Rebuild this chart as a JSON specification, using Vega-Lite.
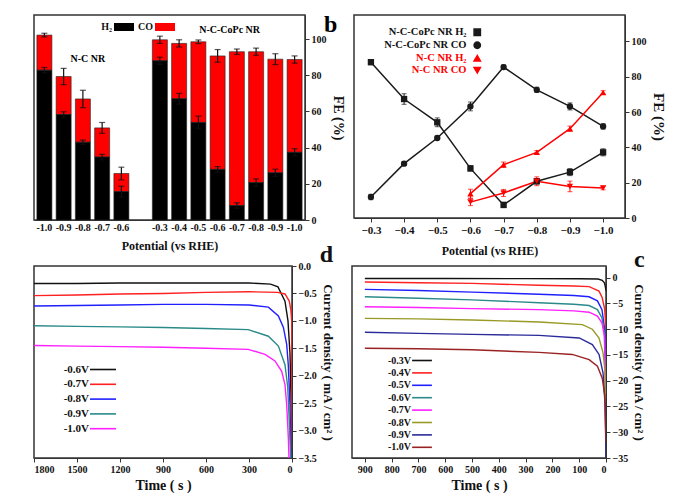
{
  "$schema": "https://vega.github.io/schema/vega-lite/v6.json",
  "padding": {"left": 32, "top": 12, "right": 0, "bottom": 0},
  "background": "white",
  "datasets": {
    "fe": [
      {"series": "N-C-CoPc NR H₂", "potential": -0.3, "fe": 88.3, "err": 1.5},
      {"series": "N-C-CoPc NR H₂", "potential": -0.4, "fe": 67.4, "err": 3},
      {"series": "N-C-CoPc NR H₂", "potential": -0.5, "fe": 54.2, "err": 2.5},
      {"series": "N-C-CoPc NR H₂", "potential": -0.6, "fe": 28.1, "err": 1.5},
      {"series": "N-C-CoPc NR H₂", "potential": -0.7, "fe": 7.4, "err": 1.5},
      {"series": "N-C-CoPc NR H₂", "potential": -0.8, "fe": 20.8, "err": 1.5},
      {"series": "N-C-CoPc NR H₂", "potential": -0.9, "fe": 26, "err": 2},
      {"series": "N-C-CoPc NR H₂", "potential": -1.0, "fe": 37.2, "err": 2},
      {"series": "N-C-CoPc NR CO", "potential": -0.3, "fe": 11.9, "err": 1.5},
      {"series": "N-C-CoPc NR CO", "potential": -0.4, "fe": 30.8, "err": 1},
      {"series": "N-C-CoPc NR CO", "potential": -0.5, "fe": 45.3, "err": 1},
      {"series": "N-C-CoPc NR CO", "potential": -0.6, "fe": 63.2, "err": 2.5},
      {"series": "N-C-CoPc NR CO", "potential": -0.7, "fe": 85.5, "err": 1.2},
      {"series": "N-C-CoPc NR CO", "potential": -0.8, "fe": 72.6, "err": 1.5},
      {"series": "N-C-CoPc NR CO", "potential": -0.9, "fe": 63.2, "err": 2},
      {"series": "N-C-CoPc NR CO", "potential": -1.0, "fe": 51.9, "err": 1.5},
      {"series": "N-C NR H₂", "potential": -0.6, "fe": 13.8, "err": 2.5},
      {"series": "N-C NR H₂", "potential": -0.7, "fe": 30.2, "err": 1.5},
      {"series": "N-C NR H₂", "potential": -0.8, "fe": 37.2, "err": 1},
      {"series": "N-C NR H₂", "potential": -0.9, "fe": 50.6, "err": 1.5},
      {"series": "N-C NR H₂", "potential": -1.0, "fe": 71.1, "err": 1},
      {"series": "N-C NR CO", "potential": -0.6, "fe": 9, "err": 2},
      {"series": "N-C NR CO", "potential": -0.7, "fe": 14.2, "err": 2},
      {"series": "N-C NR CO", "potential": -0.8, "fe": 20.8, "err": 2.5},
      {"series": "N-C NR CO", "potential": -0.9, "fe": 17.9, "err": 3},
      {"series": "N-C NR CO", "potential": -1.0, "fe": 17, "err": 1}
    ],
    "bars": [
      {"key": "NC|-1.0", "h2": 82.8, "h2err": 1.5, "total": 102.2, "terr": 1},
      {"key": "NC|-0.9", "h2": 58.3, "h2err": 1.5, "total": 79.3, "terr": 4.5},
      {"key": "NC|-0.8", "h2": 43, "h2err": 1.2, "total": 66.9, "terr": 4.8},
      {"key": "NC|-0.7", "h2": 34.8, "h2err": 1.5, "total": 50.9, "terr": 3},
      {"key": "NC|-0.6", "h2": 15.7, "h2err": 3, "total": 25.7, "terr": 3.5},
      {"key": "CoPc|-0.3", "h2": 88, "h2err": 2, "total": 99.6, "terr": 2},
      {"key": "CoPc|-0.4", "h2": 67, "h2err": 3, "total": 97.6, "terr": 2},
      {"key": "CoPc|-0.5", "h2": 53.9, "h2err": 3.5, "total": 98.5, "terr": 1},
      {"key": "CoPc|-0.6", "h2": 28, "h2err": 1.5, "total": 90.7, "terr": 3.5},
      {"key": "CoPc|-0.7", "h2": 8, "h2err": 1.5, "total": 93, "terr": 1.5},
      {"key": "CoPc|-0.8", "h2": 20.7, "h2err": 2, "total": 93, "terr": 2},
      {"key": "CoPc|-0.9", "h2": 26.1, "h2err": 2, "total": 88.9, "terr": 3},
      {"key": "CoPc|-1.0", "h2": 37.4, "h2err": 2, "total": 88.7, "terr": 2}
    ],
    "d": [
      {"v": "-0.6V", "t": 1800, "j": -0.32}, {"v": "-0.6V", "t": 1500, "j": -0.32}, {"v": "-0.6V", "t": 1200, "j": -0.31},
      {"v": "-0.6V", "t": 900, "j": -0.31}, {"v": "-0.6V", "t": 600, "j": -0.31}, {"v": "-0.6V", "t": 300, "j": -0.31},
      {"v": "-0.6V", "t": 150, "j": -0.33}, {"v": "-0.6V", "t": 98, "j": -0.38}, {"v": "-0.6V", "t": 49, "j": -0.64},
      {"v": "-0.6V", "t": 28, "j": -1.0}, {"v": "-0.6V", "t": 14, "j": -1.6}, {"v": "-0.6V", "t": 5, "j": -2.6},
      {"v": "-0.6V", "t": 0, "j": -3.5},
      {"v": "-0.7V", "t": 1800, "j": -0.54}, {"v": "-0.7V", "t": 1500, "j": -0.53}, {"v": "-0.7V", "t": 1200, "j": -0.51},
      {"v": "-0.7V", "t": 900, "j": -0.5}, {"v": "-0.7V", "t": 600, "j": -0.48}, {"v": "-0.7V", "t": 300, "j": -0.47},
      {"v": "-0.7V", "t": 100, "j": -0.48}, {"v": "-0.7V", "t": 49, "j": -0.51}, {"v": "-0.7V", "t": 19, "j": -0.64},
      {"v": "-0.7V", "t": 8, "j": -0.8}, {"v": "-0.7V", "t": 2, "j": -1.0}, {"v": "-0.7V", "t": 0, "j": -3.5},
      {"v": "-0.8V", "t": 1800, "j": -0.73}, {"v": "-0.8V", "t": 1500, "j": -0.72}, {"v": "-0.8V", "t": 1200, "j": -0.71},
      {"v": "-0.8V", "t": 900, "j": -0.7}, {"v": "-0.8V", "t": 600, "j": -0.7}, {"v": "-0.8V", "t": 300, "j": -0.71},
      {"v": "-0.8V", "t": 165, "j": -0.75}, {"v": "-0.8V", "t": 95, "j": -0.91}, {"v": "-0.8V", "t": 60, "j": -1.12},
      {"v": "-0.8V", "t": 37, "j": -1.43}, {"v": "-0.8V", "t": 26, "j": -1.8}, {"v": "-0.8V", "t": 14, "j": -2.53},
      {"v": "-0.8V", "t": 7, "j": -3.5},
      {"v": "-0.9V", "t": 1800, "j": -1.09}, {"v": "-0.9V", "t": 1500, "j": -1.1}, {"v": "-0.9V", "t": 1200, "j": -1.11},
      {"v": "-0.9V", "t": 900, "j": -1.12}, {"v": "-0.9V", "t": 600, "j": -1.14}, {"v": "-0.9V", "t": 305, "j": -1.16},
      {"v": "-0.9V", "t": 165, "j": -1.28}, {"v": "-0.9V", "t": 95, "j": -1.46}, {"v": "-0.9V", "t": 49, "j": -1.8},
      {"v": "-0.9V", "t": 30, "j": -2.2}, {"v": "-0.9V", "t": 19, "j": -2.83}, {"v": "-0.9V", "t": 9, "j": -3.5},
      {"v": "-1.0V", "t": 1800, "j": -1.45}, {"v": "-1.0V", "t": 1500, "j": -1.46}, {"v": "-1.0V", "t": 1200, "j": -1.47},
      {"v": "-1.0V", "t": 900, "j": -1.48}, {"v": "-1.0V", "t": 600, "j": -1.5}, {"v": "-1.0V", "t": 305, "j": -1.52},
      {"v": "-1.0V", "t": 188, "j": -1.61}, {"v": "-1.0V", "t": 119, "j": -1.73}, {"v": "-1.0V", "t": 72, "j": -1.92},
      {"v": "-1.0V", "t": 49, "j": -2.16}, {"v": "-1.0V", "t": 37, "j": -2.53}, {"v": "-1.0V", "t": 26, "j": -3.1},
      {"v": "-1.0V", "t": 21, "j": -3.5}
    ],
    "c": [
      {"v": "-0.3V", "t": 900, "j": -0.15}, {"v": "-0.3V", "t": 600, "j": -0.17}, {"v": "-0.3V", "t": 300, "j": -0.19},
      {"v": "-0.3V", "t": 100, "j": -0.2}, {"v": "-0.3V", "t": 30, "j": -0.25}, {"v": "-0.3V", "t": 14, "j": -0.5},
      {"v": "-0.3V", "t": 6, "j": -1.0}, {"v": "-0.3V", "t": 3, "j": -1.6}, {"v": "-0.3V", "t": 0, "j": -2.5},
      {"v": "-0.4V", "t": 900, "j": -0.84}, {"v": "-0.4V", "t": 700, "j": -0.97}, {"v": "-0.4V", "t": 500, "j": -1.1},
      {"v": "-0.4V", "t": 250, "j": -1.48}, {"v": "-0.4V", "t": 120, "j": -1.62}, {"v": "-0.4V", "t": 63, "j": -1.74},
      {"v": "-0.4V", "t": 26, "j": -2.6}, {"v": "-0.4V", "t": 14, "j": -3.9}, {"v": "-0.4V", "t": 5, "j": -6.1},
      {"v": "-0.4V", "t": 0, "j": -10},
      {"v": "-0.5V", "t": 900, "j": -2.26}, {"v": "-0.5V", "t": 700, "j": -2.5}, {"v": "-0.5V", "t": 500, "j": -2.8},
      {"v": "-0.5V", "t": 250, "j": -3.2}, {"v": "-0.5V", "t": 120, "j": -3.45}, {"v": "-0.5V", "t": 63, "j": -3.7},
      {"v": "-0.5V", "t": 32, "j": -4.5}, {"v": "-0.5V", "t": 15, "j": -6.2}, {"v": "-0.5V", "t": 5, "j": -10},
      {"v": "-0.5V", "t": 0, "j": -18},
      {"v": "-0.6V", "t": 900, "j": -3.7}, {"v": "-0.6V", "t": 700, "j": -4.0}, {"v": "-0.6V", "t": 500, "j": -4.3},
      {"v": "-0.6V", "t": 250, "j": -4.86}, {"v": "-0.6V", "t": 120, "j": -5.15}, {"v": "-0.6V", "t": 63, "j": -5.4},
      {"v": "-0.6V", "t": 32, "j": -6.2}, {"v": "-0.6V", "t": 15, "j": -7.8}, {"v": "-0.6V", "t": 6, "j": -10.7},
      {"v": "-0.6V", "t": 0, "j": -22},
      {"v": "-0.7V", "t": 900, "j": -5.64}, {"v": "-0.7V", "t": 700, "j": -5.8}, {"v": "-0.7V", "t": 500, "j": -6.0},
      {"v": "-0.7V", "t": 250, "j": -6.2}, {"v": "-0.7V", "t": 120, "j": -6.45}, {"v": "-0.7V", "t": 63, "j": -6.7},
      {"v": "-0.7V", "t": 32, "j": -7.45}, {"v": "-0.7V", "t": 15, "j": -8.75}, {"v": "-0.7V", "t": 6, "j": -11.3},
      {"v": "-0.7V", "t": 0, "j": -24},
      {"v": "-0.8V", "t": 900, "j": -7.9}, {"v": "-0.8V", "t": 700, "j": -8.0}, {"v": "-0.8V", "t": 500, "j": -8.2},
      {"v": "-0.8V", "t": 250, "j": -8.6}, {"v": "-0.8V", "t": 88, "j": -9.1}, {"v": "-0.8V", "t": 51, "j": -10},
      {"v": "-0.8V", "t": 26, "j": -11.7}, {"v": "-0.8V", "t": 11, "j": -14.6}, {"v": "-0.8V", "t": 4, "j": -18},
      {"v": "-0.8V", "t": 0, "j": -28},
      {"v": "-0.9V", "t": 900, "j": -10.6}, {"v": "-0.9V", "t": 700, "j": -10.8}, {"v": "-0.9V", "t": 500, "j": -11.0},
      {"v": "-0.9V", "t": 250, "j": -11.2}, {"v": "-0.9V", "t": 100, "j": -11.7}, {"v": "-0.9V", "t": 51, "j": -13},
      {"v": "-0.9V", "t": 26, "j": -14.9}, {"v": "-0.9V", "t": 11, "j": -18.5}, {"v": "-0.9V", "t": 3, "j": -25},
      {"v": "-0.9V", "t": 0, "j": -35},
      {"v": "-1.0V", "t": 900, "j": -13.7}, {"v": "-1.0V", "t": 700, "j": -13.8}, {"v": "-1.0V", "t": 500, "j": -14.0},
      {"v": "-1.0V", "t": 250, "j": -14.5}, {"v": "-1.0V", "t": 126, "j": -14.9}, {"v": "-1.0V", "t": 63, "j": -15.9},
      {"v": "-1.0V", "t": 32, "j": -17.2}, {"v": "-1.0V", "t": 14, "j": -19.5}, {"v": "-1.0V", "t": 5, "j": -22.7},
      {"v": "-1.0V", "t": 0, "j": -32}
    ]
  },
  "resolve": {"scale": {"color": "independent", "shape": "independent"}, "legend": {"color": "independent", "shape": "independent"}},
  "vconcat": [
    {
      "spacing": 8,
      "resolve": {"scale": {"color": "independent", "shape": "independent"}, "legend": {"color": "independent", "shape": "independent"}},
      "hconcat": [
        {
          "width": 271,
          "height": 205,
          "data": {"name": "bars"},
          "encoding": {
            "x": {
              "field": "key",
              "type": "nominal",
              "sort": null,
              "scale": {
                "domain": ["NC|-1.0", "NC|-0.9", "NC|-0.8", "NC|-0.7", "NC|-0.6", "gap", "CoPc|-0.3", "CoPc|-0.4", "CoPc|-0.5", "CoPc|-0.6", "CoPc|-0.7", "CoPc|-0.8", "CoPc|-0.9", "CoPc|-1.0"],
                "paddingInner": 0.22,
                "paddingOuter": 0.15
              },
              "axis": {
                "labelExpr": "datum.label == 'gap' ? '' : split(datum.label, '|')[1]",
                "labelAngle": 0,
                "ticks": false,
                "title": "Potential (vs RHE)",
                "titlePadding": 8
              }
            }
          },
          "layer": [
            {
              "mark": {"type": "bar", "stroke": "#222", "strokeWidth": 0.6},
              "encoding": {
                "y": {
                  "field": "total",
                  "type": "quantitative",
                  "title": "FE (%)",
                  "scale": {"domain": [0, 113.3], "nice": false},
                  "axis": {"orient": "right", "values": [0, 20, 40, 60, 80, 100], "title": "FE (%)", "titleFontSize": 14}
                },
                "y2": {"field": "h2"},
                "color": {
                  "datum": "CO",
                  "scale": {"domain": ["H₂", "CO"], "range": ["#000000", "#ff0000"]},
                  "legend": {
                    "orient": "none",
                    "legendX": 80,
                    "legendY": 2,
                    "direction": "horizontal",
                    "title": null,
                    "symbolType": "M-1,-0.4H1V0.4H-1Z",
                    "symbolSize": 400,
                    "symbolStrokeWidth": 0,
                    "labelAlign": "right",
                    "labelOffset": -22,
                    "columnPadding": 4
                  }
                }
              }
            },
            {
              "mark": {"type": "bar", "stroke": "#222", "strokeWidth": 0.6},
              "encoding": {
                "y": {"field": "h2", "type": "quantitative", "title": "FE (%)"},
                "color": {"datum": "H₂"}
              }
            },
            {
              "mark": {"type": "errorbar", "ticks": {"size": 6}, "color": "#111", "thickness": 1.2},
              "encoding": {
                "y": {"field": "total", "type": "quantitative", "title": "FE (%)"},
                "yError": {"field": "terr"}
              }
            },
            {
              "mark": {"type": "errorbar", "ticks": {"size": 6}, "color": "#111", "thickness": 1.2},
              "encoding": {
                "y": {"field": "h2", "type": "quantitative", "title": "FE (%)"},
                "yError": {"field": "h2err"}
              }
            },
            {
              "data": {"values": [{"note": "N-C NR"}]},
              "mark": {"type": "text", "font": "Liberation Serif", "fontWeight": "bold", "fontSize": 10, "dx": 5},
              "encoding": {
                "x": {"datum": "NC|-0.8"},
                "y": {"datum": 89},
                "text": {"field": "note"}
              }
            },
            {
              "data": {"values": [{"note": "N-C-CoPc NR"}]},
              "mark": {"type": "text", "font": "Liberation Serif", "fontWeight": "bold", "fontSize": 10, "dx": 12},
              "encoding": {
                "x": {"datum": "CoPc|-0.6"},
                "y": {"datum": 105},
                "text": {"field": "note"}
              }
            },
            {
              "data": {"values": [{"note": "b"}]},
              "mark": {"type": "text", "font": "Liberation Serif", "fontWeight": "bold", "fontSize": 24, "baseline": "middle", "dx": 36},
              "encoding": {
                "x": {"datum": "CoPc|-1.0"},
                "y": {"datum": 107.8},
                "text": {"field": "note"}
              }
            }
          ]
        },
        {
          "width": 271,
          "height": 203,
          "data": {"name": "fe"},
          "encoding": {
            "x": {
              "field": "potential",
              "type": "quantitative",
              "scale": {"domain": [-1.066, -0.249], "reverse": true, "nice": false, "zero": false},
              "axis": {"values": [-0.3, -0.4, -0.5, -0.6, -0.7, -0.8, -0.9, -1.0], "format": ".1f", "title": "Potential (vs RHE)", "labelFontSize": 11, "titlePadding": 10}
            },
            "y": {
              "field": "fe",
              "type": "quantitative",
              "scale": {"domain": [0, 115], "nice": false},
              "axis": {"orient": "right", "values": [0, 20, 40, 60, 80, 100], "title": "FE (%)", "titleFontSize": 15}
            },
            "color": {
              "field": "series",
              "type": "nominal",
              "scale": {
                "domain": ["N-C-CoPc NR H₂", "N-C-CoPc NR CO", "N-C NR H₂", "N-C NR CO"],
                "range": ["#1a1a1a", "#1a1a1a", "#ff0000", "#ff0000"]
              },
              "legend": {
                "orient": "none",
                "legendX": 118,
                "legendY": 12,
                "title": null,
                "symbolSize": 40,
                "labelAlign": "right",
                "labelOffset": -16,
                "labelFontSize": 10.5,
                "rowPadding": 0,
                "encode": {
                  "labels": {"update": {"fill": {"signal": "indexof(datum.label, 'CoPc') >= 0 ? '#111111' : '#ff0000'"}}}
                }
              }
            }
          },
          "layer": [
            {
              "mark": {"type": "errorbar", "ticks": {"size": 5}, "thickness": 1},
              "encoding": {"yError": {"field": "err"}}
            },
            {
              "mark": {"type": "line", "strokeWidth": 1.5},
              "encoding": {}
            },
            {
              "mark": {"type": "point", "filled": true, "size": 40, "opacity": 1},
              "encoding": {
                "shape": {
                  "field": "series",
                  "type": "nominal",
                  "scale": {
                    "domain": ["N-C-CoPc NR H₂", "N-C-CoPc NR CO", "N-C NR H₂", "N-C NR CO"],
                    "range": ["square", "circle", "triangle-up", "triangle-down"]
                  },
                  "legend": {
                    "orient": "none",
                    "legendX": 118,
                    "legendY": 12,
                    "title": null,
                    "symbolSize": 40,
                    "labelAlign": "right",
                    "labelOffset": -16,
                    "labelFontSize": 10.5,
                    "rowPadding": 0,
                    "encode": {
                      "labels": {"update": {"fill": {"signal": "indexof(datum.label, 'CoPc') >= 0 ? '#111111' : '#ff0000'"}}}
                    }
                  }
                }
              }
            },
            {
              "data": {"values": [{"note": "a"}]},
              "mark": {"type": "text", "font": "Liberation Serif", "fontWeight": "bold", "fontSize": 24, "baseline": "middle", "dx": 44},
              "encoding": {
                "x": {"datum": -1.0},
                "y": {"datum": 113.3},
                "text": {"field": "note"},
                "color": {"value": "#111111"}
              }
            }
          ]
        }
      ]
    },
    {
      "spacing": 17,
      "resolve": {"scale": {"color": "independent", "shape": "independent"}, "legend": {"color": "independent", "shape": "independent"}},
      "hconcat": [
        {
          "width": 258,
          "height": 192,
          "title": {"text": "d", "offset": -6},
          "data": {"name": "d"},
          "mark": {"type": "line", "strokeWidth": 1.4, "clip": true},
          "encoding": {
            "x": {
              "field": "t",
              "type": "quantitative",
              "scale": {"domain": [0, 1800], "reverse": true, "nice": false},
              "axis": {"values": [0, 300, 600, 900, 1200, 1500, 1800], "format": "d", "title": "Time ( s )", "titleFontSize": 14, "titlePadding": 4}
            },
            "y": {
              "field": "j",
              "type": "quantitative",
              "scale": {"domain": [-3.5, 0], "nice": false},
              "axis": {"orient": "right", "values": [0, -0.5, -1, -1.5, -2, -2.5, -3, -3.5], "format": ".1f", "title": "Current density ( mA / cm² )", "titleFontSize": 13}
            },
            "color": {
              "field": "v",
              "type": "nominal",
              "scale": {
                "domain": ["-0.6V", "-0.7V", "-0.8V", "-0.9V", "-1.0V"],
                "range": ["#111111", "#ff2020", "#2020ff", "#2a8a8a", "#ff20ff"]
              },
              "legend": {
                "orient": "none",
                "legendX": 61.5,
                "legendY": 96,
                "title": null,
                "symbolType": "M-2,0H2",
                "symbolSize": 169,
                "symbolStrokeWidth": 1.6,
                "labelFontSize": 11,
                "labelAlign": "right",
                "labelOffset": -21.5,
                "rowPadding": 1.8
              }
            },
            "order": {"field": "t", "type": "quantitative"}
          }
        },
        {
          "width": 254,
          "height": 192,
          "title": {"text": "c", "offset": -6},
          "data": {"name": "c"},
          "mark": {"type": "line", "strokeWidth": 1.4, "clip": true},
          "encoding": {
            "x": {
              "field": "t",
              "type": "quantitative",
              "scale": {"domain": [0, 948], "reverse": true, "nice": false},
              "axis": {"values": [0, 100, 200, 300, 400, 500, 600, 700, 800, 900], "format": "d", "title": "Time ( s )", "titleFontSize": 14, "titlePadding": 4}
            },
            "y": {
              "field": "j",
              "type": "quantitative",
              "scale": {"domain": [-35, 2.27], "nice": false},
              "axis": {"orient": "right", "values": [0, -5, -10, -15, -20, -25, -30, -35], "title": "Current density ( mA / cm² )", "titleFontSize": 13}
            },
            "color": {
              "field": "v",
              "type": "nominal",
              "scale": {
                "domain": ["-0.3V", "-0.4V", "-0.5V", "-0.6V", "-0.7V", "-0.8V", "-0.9V", "-1.0V"],
                "range": ["#111111", "#ff2020", "#2020ff", "#2a8a8a", "#ff20ff", "#999926", "#2a2a9a", "#992222"]
              },
              "legend": {
                "orient": "none",
                "legendX": 63.5,
                "legendY": 88,
                "title": null,
                "symbolType": "M-1.8,0H1.8",
                "symbolSize": 121,
                "symbolStrokeWidth": 1.6,
                "labelFontSize": 10,
                "labelAlign": "right",
                "labelOffset": -17.5,
                "rowPadding": 0.4
              }
            },
            "order": {"field": "t", "type": "quantitative"}
          }
        }
      ]
    }
  ],
  "spacing": -15,
  "config": {
    "font": "Liberation Serif",
    "view": {"stroke": "#333333", "strokeWidth": 1.5},
    "axis": {
      "labelFont": "Liberation Serif",
      "labelFontSize": 10,
      "labelFontWeight": "bold",
      "labelColor": "#111111",
      "titleFont": "Liberation Serif",
      "titleFontSize": 12,
      "titleFontWeight": "bold",
      "titleColor": "#111111",
      "grid": false,
      "domainColor": "#333333",
      "tickColor": "#333333",
      "tickSize": 4,
      "labelPadding": 2
    },
    "legend": {
      "labelFont": "Liberation Serif",
      "labelFontWeight": "bold",
      "labelFontSize": 10,
      "labelColor": "#111111"
    },
    "title": {
      "font": "Liberation Serif",
      "fontSize": 24,
      "fontWeight": "bold",
      "anchor": "end",
      "frame": "bounds",
      "color": "#111111"
    }
  }
}
